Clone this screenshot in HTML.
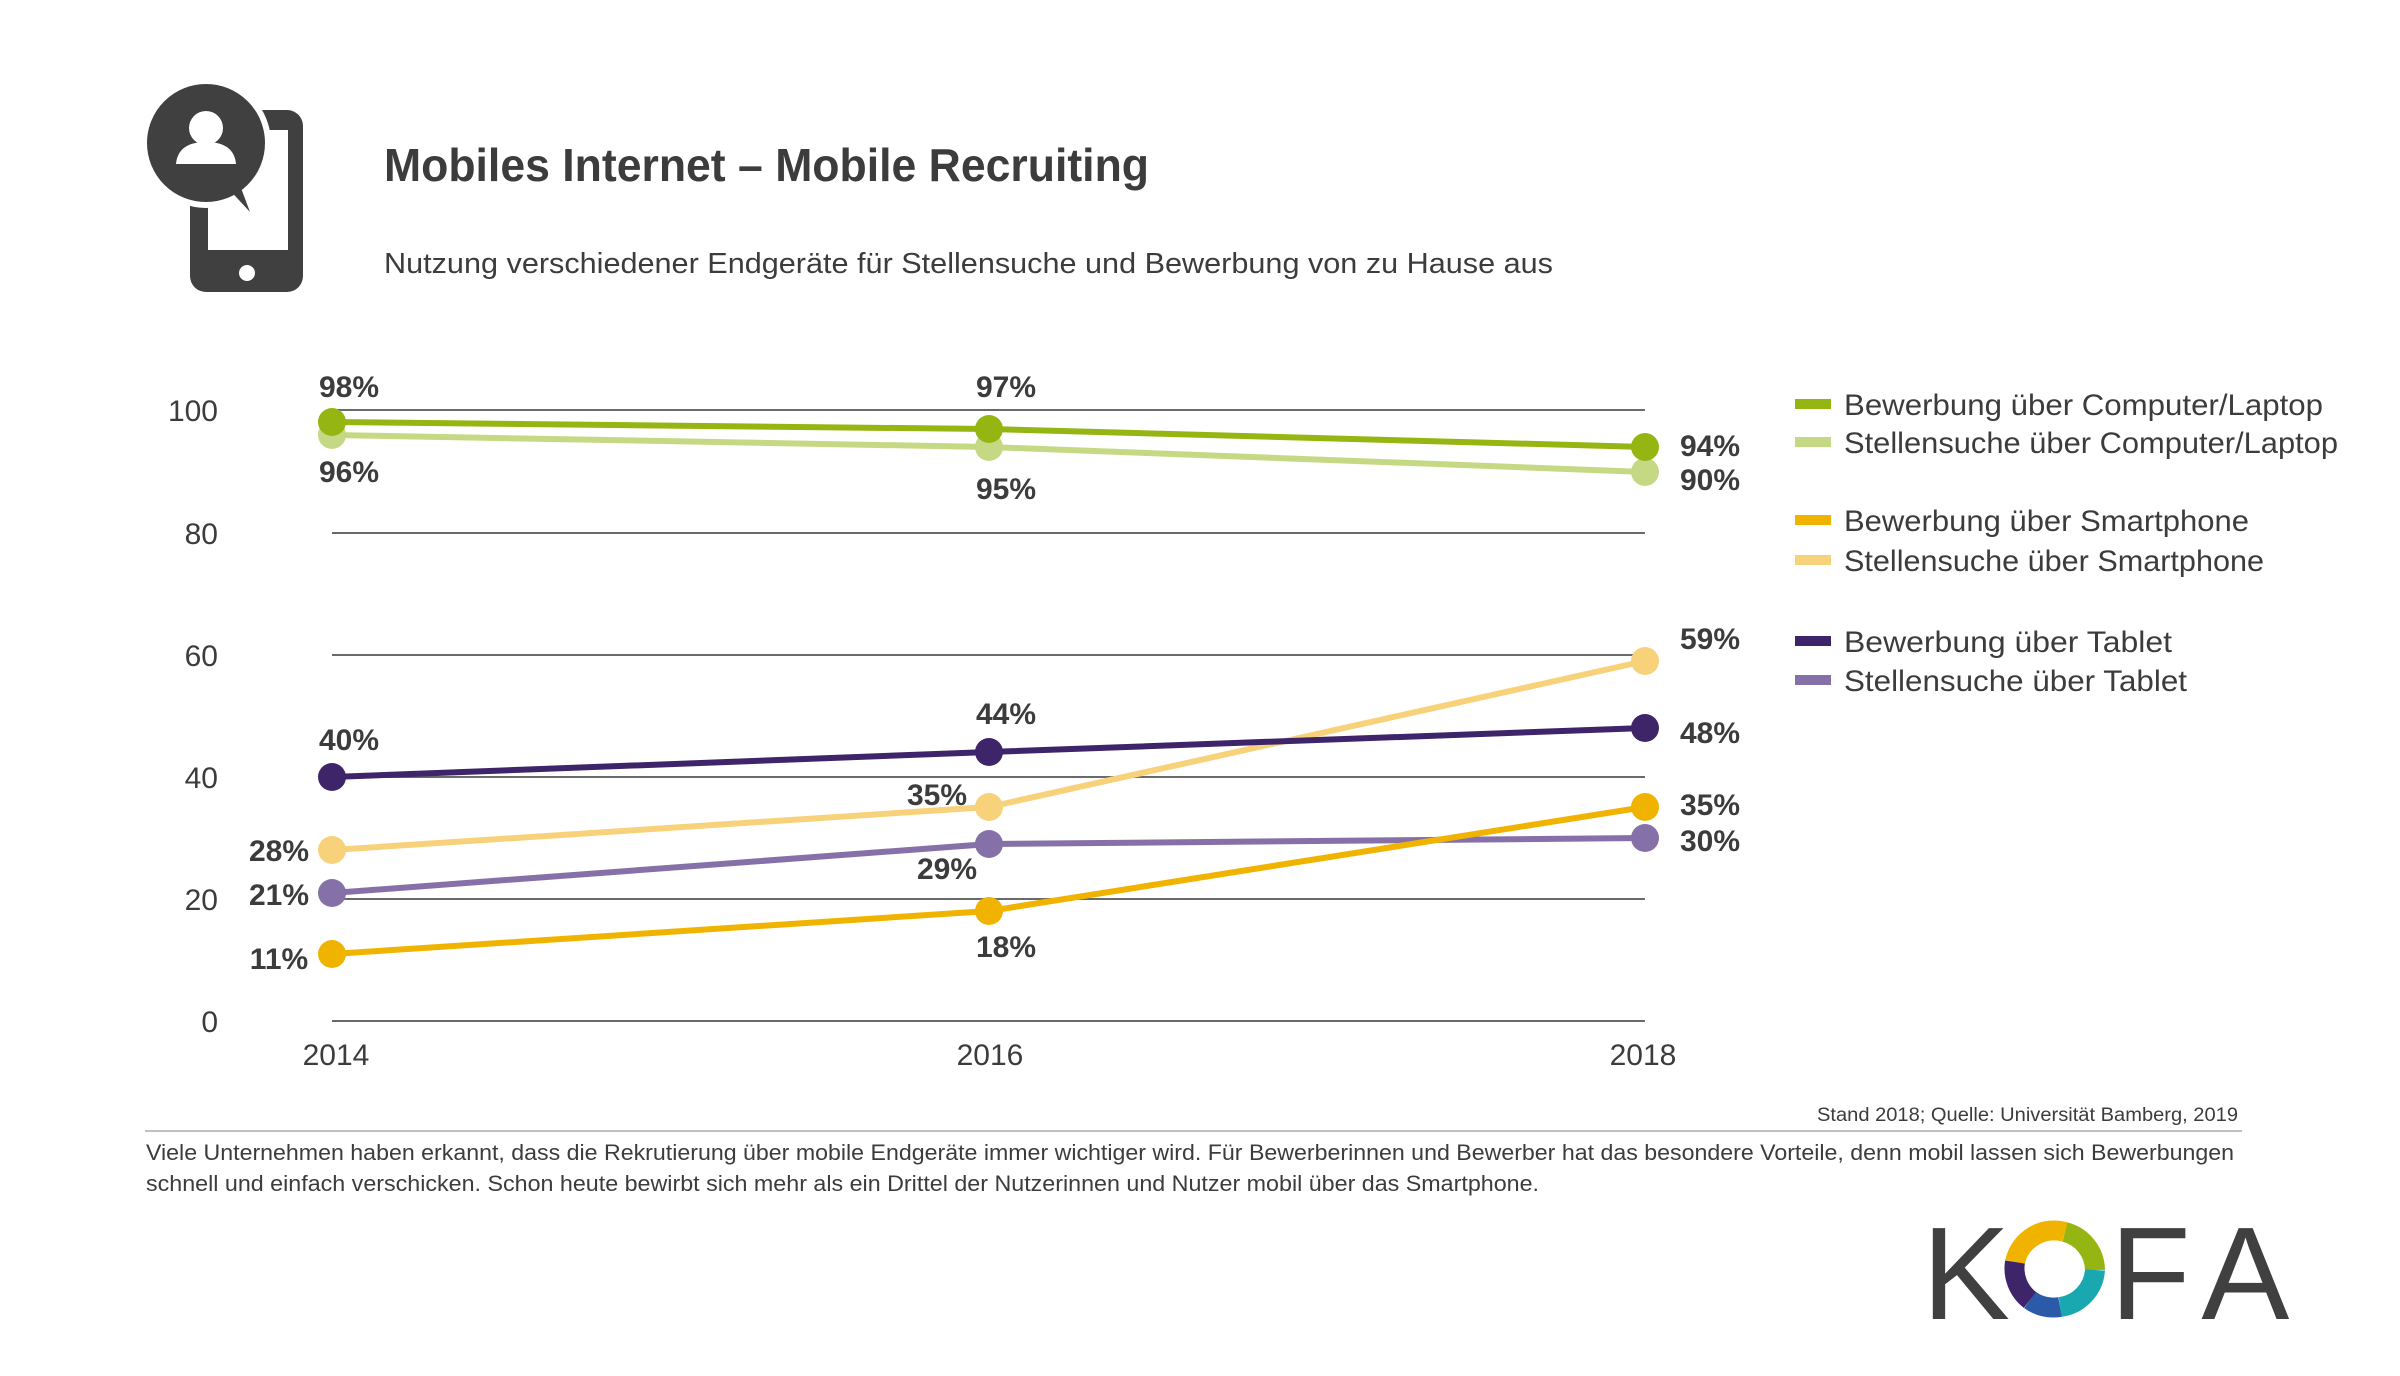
<!DOCTYPE html>
<html><head><meta charset="utf-8"><style>
html,body{margin:0;padding:0;background:#fff;}
body{width:2400px;height:1371px;overflow:hidden;font-family:"Liberation Sans",sans-serif;color:#3c3c3c;}
</style></head><body>
<svg width="2400" height="1371" viewBox="0 0 2400 1371" xmlns="http://www.w3.org/2000/svg" font-family="Liberation Sans, sans-serif">
<g fill="#404040">
<rect x="190" y="110" width="113" height="182" rx="16"/>
<rect x="208" y="130" width="80" height="120" fill="#fff"/>
<circle cx="247" cy="273" r="8" fill="#fff"/>
<circle cx="206" cy="143" r="62" stroke="#fff" stroke-width="6"/>
<path d="M225 185 L250 212 L238 180 Z"/>
<circle cx="206" cy="128" r="17" fill="#fff"/>
<path d="M176 164 Q178 142 206 142 Q234 142 236 164 Z" fill="#fff"/>
</g>
<text x="384" y="181" font-size="46" font-weight="bold" fill="#3c3c3c" textLength="765" lengthAdjust="spacingAndGlyphs">Mobiles Internet – Mobile Recruiting</text>
<text x="384" y="273" font-size="29" fill="#3c3c3c" textLength="1169" lengthAdjust="spacingAndGlyphs">Nutzung verschiedener Endgeräte für Stellensuche und Bewerbung von zu Hause aus</text>
<g stroke="#6a6a6a" stroke-width="2">
<line x1="332" x2="1645" y1="410" y2="410"/>
<line x1="332" x2="1645" y1="533" y2="533"/>
<line x1="332" x2="1645" y1="655" y2="655"/>
<line x1="332" x2="1645" y1="777" y2="777"/>
<line x1="332" x2="1645" y1="899" y2="899"/>
<line x1="332" x2="1645" y1="1021" y2="1021"/>
</g>
<g font-size="30" fill="#3c3c3c" text-anchor="end">
<text x="218" y="421">100</text><text x="218" y="544">80</text><text x="218" y="666">60</text>
<text x="218" y="788">40</text><text x="218" y="910">20</text><text x="218" y="1032">0</text>
</g>
<g font-size="30" fill="#3c3c3c" text-anchor="middle">
<text x="336" y="1065">2014</text><text x="990" y="1065">2016</text><text x="1643" y="1065">2018</text>
</g>
<g stroke-width="6" fill="none" stroke-linejoin="round">
<polyline stroke="#c5d985" points="332,435 989,447 1645,472"/>
<polyline stroke="#95b512" points="332,422 989,429 1645,447"/>
<polyline stroke="#f8d27a" points="332,850 989,807 1645,661"/>
<polyline stroke="#8670a8" points="332,893 989,844 1645,838"/>
<polyline stroke="#f0b400" points="332,954 989,911 1645,807"/>
<polyline stroke="#3e2468" points="332,777 989,752 1645,728"/>
</g>
<g fill="#c5d985"><circle cx="332" cy="435" r="14"/><circle cx="989" cy="447" r="14"/><circle cx="1645" cy="472" r="14"/></g>
<g fill="#95b512"><circle cx="332" cy="422" r="14"/><circle cx="989" cy="429" r="14"/><circle cx="1645" cy="447" r="14"/></g>
<g fill="#f8d27a"><circle cx="332" cy="850" r="14"/><circle cx="989" cy="807" r="14"/><circle cx="1645" cy="661" r="14"/></g>
<g fill="#8670a8"><circle cx="332" cy="893" r="14"/><circle cx="989" cy="844" r="14"/><circle cx="1645" cy="838" r="14"/></g>
<g fill="#f0b400"><circle cx="332" cy="954" r="14"/><circle cx="989" cy="911" r="14"/><circle cx="1645" cy="807" r="14"/></g>
<g fill="#3e2468"><circle cx="332" cy="777" r="14"/><circle cx="989" cy="752" r="14"/><circle cx="1645" cy="728" r="14"/></g>
<g font-size="30" font-weight="bold" fill="#3c3c3c" text-anchor="middle">
<text x="349" y="397">98%</text><text x="349" y="482">96%</text>
<text x="1006" y="397">97%</text><text x="1006" y="499">95%</text>
<text x="349" y="750">40%</text><text x="1006" y="724">44%</text>
<text x="937" y="805">35%</text><text x="947" y="879">29%</text><text x="1006" y="957">18%</text>
<text x="279" y="861">28%</text><text x="279" y="905">21%</text><text x="279" y="969">11%</text>
</g>
<g font-size="30" font-weight="bold" fill="#3c3c3c">
<text x="1680" y="456">94%</text><text x="1680" y="490">90%</text><text x="1680" y="649">59%</text>
<text x="1680" y="743">48%</text><text x="1680" y="815">35%</text><text x="1680" y="851">30%</text>
</g>
<g>
<rect x="1795" y="399" width="36" height="10" fill="#95b512"/>
<rect x="1795" y="437" width="36" height="10" fill="#c5d985"/>
<rect x="1795" y="515" width="36" height="10" fill="#f0b400"/>
<rect x="1795" y="555" width="36" height="10" fill="#f8d27a"/>
<rect x="1795" y="636" width="36" height="10" fill="#3e2468"/>
<rect x="1795" y="675" width="36" height="10" fill="#8670a8"/>
</g>
<g font-size="30" fill="#3c3c3c">
<text x="1844" y="415" textLength="479" lengthAdjust="spacingAndGlyphs">Bewerbung über Computer/Laptop</text>
<text x="1844" y="453" textLength="494" lengthAdjust="spacingAndGlyphs">Stellensuche über Computer/Laptop</text>
<text x="1844" y="531" textLength="405" lengthAdjust="spacingAndGlyphs">Bewerbung über Smartphone</text>
<text x="1844" y="571" textLength="420" lengthAdjust="spacingAndGlyphs">Stellensuche über Smartphone</text>
<text x="1844" y="652" textLength="328" lengthAdjust="spacingAndGlyphs">Bewerbung über Tablet</text>
<text x="1844" y="691" textLength="343" lengthAdjust="spacingAndGlyphs">Stellensuche über Tablet</text>
</g>
<text x="1817" y="1121" font-size="19" fill="#3c3c3c" textLength="421" lengthAdjust="spacingAndGlyphs">Stand 2018; Quelle: Universität Bamberg, 2019</text>
<line x1="145" x2="2242" y1="1131" y2="1131" stroke="#aaa" stroke-width="1.5"/>
<text x="146" y="1160" font-size="22" fill="#3c3c3c" textLength="2088" lengthAdjust="spacingAndGlyphs">Viele Unternehmen haben erkannt, dass die Rekrutierung über mobile Endgeräte immer wichtiger wird. Für Bewerberinnen und Bewerber hat das besondere Vorteile, denn mobil lassen sich Bewerbungen</text>
<text x="146" y="1191" font-size="22" fill="#3c3c3c" textLength="1393" lengthAdjust="spacingAndGlyphs">schnell und einfach verschicken. Schon heute bewirbt sich mehr als ein Drittel der Nutzerinnen und Nutzer mobil über das Smartphone.</text>
<text x="1922" y="1319" font-size="132" fill="#404040">K</text>
<text x="2110" y="1319" font-size="132" fill="#404040" letter-spacing="18">FA</text>
<g fill="none" stroke-width="20">
<path d="M2015 1262 A40 40 0 0 1 2065 1232" stroke="#f0b400"/>
<path d="M2065 1232 A40 40 0 0 1 2095 1270" stroke="#95b512"/>
<path d="M2095 1270 A40 40 0 0 1 2060 1307" stroke="#1aa8b0"/>
<path d="M2060 1307 A40 40 0 0 1 2030 1300" stroke="#2a5aa8"/>
<path d="M2030 1300 A40 40 0 0 1 2015 1262" stroke="#3e2468"/>
</g>
</svg>
</body></html>
